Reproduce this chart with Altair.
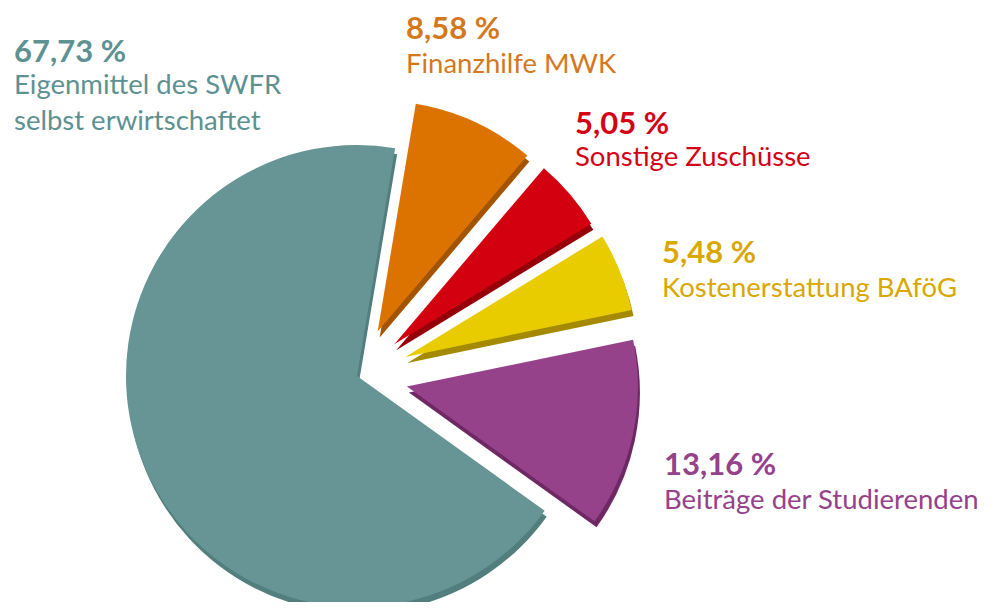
import math
import altair as alt
import pandas as pd

# ---- data ----
categories = [
    "Finanzhilfe MWK",
    "Sonstige Zuschüsse",
    "Kostenerstattung BAföG",
    "Beiträge der Studierenden",
    "Eigenmittel des SWFR selbst erwirtschaftet",
]
shares = [8.58, 5.05, 5.48, 13.16, 67.73]
pct_labels = ["8,58 %", "5,05 %", "5,48 %", "13,16 %", "67,73 %"]
name_labels = [
    "Finanzhilfe MWK",
    "Sonstige Zuschüsse",
    "Kostenerstattung BAföG",
    "Beiträge der Studierenden",
    "Eigenmittel des SWFR\nselbst erwirtschaftet",
]

# ---- style / layout ----
face_colors = ["#DC7300", "#D3000F", "#E9CC00", "#96428A", "#679494"]
side_colors = ["#A35400", "#950009", "#A38A00", "#6E2964", "#527E7E"]
text_colors = ["#D4781E", "#D40016", "#D8A800", "#95428A", "#5E9191"]
explode = [49, 49, 52, 51, 0]
label_x = [398, 567, 654, 656, 6]
pct_y = [31, 126, 255, 467, 54]
name_y = [65, 158, 289, 501, 86]

W, H = 980, 594
CX, CY = 349, 368
R = 231
START = math.radians(9.5)
DEPTH_X, DEPTH_Y = 2, 6

df = pd.DataFrame({
    "idx": list(range(len(categories))),
    "cat": categories,
    "share": shares,
    "pct": pct_labels,
    "name": name_labels,
    "explode": explode,
    "lx": label_x,
    "py": pct_y,
    "ny": name_y,
})

base = (
    alt.Chart(df)
    .transform_joinaggregate(total="sum(share)")
    .transform_window(cum="sum(share)", sort=[alt.SortField("idx")], frame=[None, 0])
    .transform_calculate(
        a1=f"{START} + 2*PI*(datum.cum - datum.share)/datum.total",
        a2=f"{START} + 2*PI*datum.cum/datum.total",
    )
    .transform_calculate(mid="(datum.a1 + datum.a2)/2")
    .transform_calculate(
        cx=f"{CX} + datum.explode*sin(datum.mid)",
        cy=f"{CY} - datum.explode*cos(datum.mid)",
    )
    .transform_calculate(
        sx=f"datum.cx + {DEPTH_X}",
        sy=f"datum.cy + {DEPTH_Y}",
    )
)

side = base.mark_arc(radius=R).encode(
    x=alt.X("sx:Q", scale=None, axis=None),
    y=alt.Y("sy:Q", scale=None, axis=None),
    theta=alt.Theta("a1:Q", scale=None),
    theta2="a2:Q",
    color=alt.Color("cat:N", scale=alt.Scale(domain=categories, range=side_colors), legend=None),
)

face = base.mark_arc(radius=R).encode(
    x=alt.X("cx:Q", scale=None, axis=None),
    y=alt.Y("cy:Q", scale=None, axis=None),
    theta=alt.Theta("a1:Q", scale=None),
    theta2="a2:Q",
    color=alt.Color("cat:N", scale=alt.Scale(domain=categories, range=face_colors), legend=None),
)

text_color = alt.Color("cat:N", scale=alt.Scale(domain=categories, range=text_colors), legend=None)

pct_text = alt.Chart(df).mark_text(
    align="left", baseline="alphabetic", font="Lato", fontSize=31, fontWeight="bold"
).encode(
    x=alt.X("lx:Q", scale=None, axis=None),
    y=alt.Y("py:Q", scale=None, axis=None),
    text="pct:N",
    color=text_color,
)

name_text = alt.Chart(df).mark_text(
    align="left", baseline="alphabetic", font="Lato", fontSize=27.5, lineBreak="\n", lineHeight=36
).encode(
    x=alt.X("lx:Q", scale=None, axis=None),
    y=alt.Y("ny:Q", scale=None, axis=None),
    text="name:N",
    color=text_color,
)

chart = (
    alt.layer(side, face, pct_text, name_text)
    .resolve_scale(color="independent")
    .properties(width=W, height=H, padding=0, background="white",
                autosize=alt.AutoSizeParams(type="none"))
    .configure_view(strokeWidth=0, stroke="transparent")
)

chart.save("out.html", embed_options={"renderer": "svg", "actions": False})
